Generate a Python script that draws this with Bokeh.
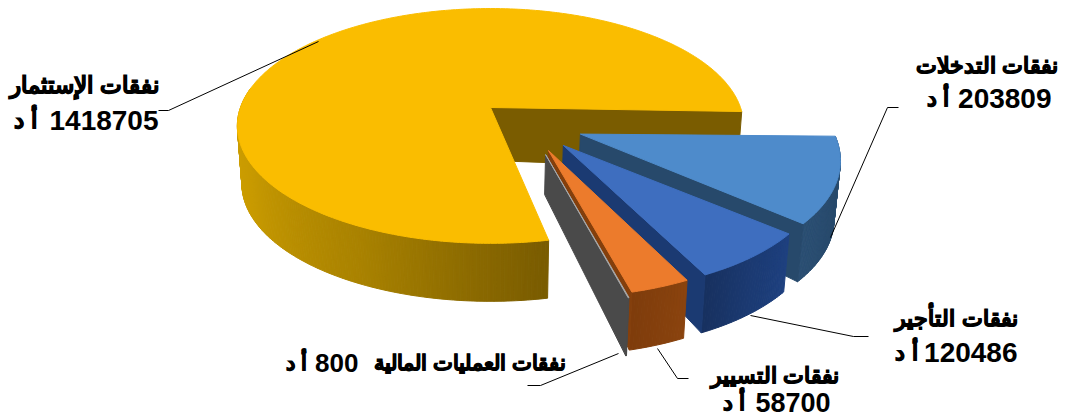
import math
from bokeh.plotting import figure
from bokeh.models import Range1d, ColumnDataSource
from bokeh.core.properties import value
from bokeh.embed import file_html
from bokeh.resources import INLINE

# ---- data ----
categories = ["نفقات الإستثمار", "نفقات التدخلات", "نفقات التأجير", "نفقات التسيير", "نفقات العمليات المالية"]
values = [1418705, 203809, 120486, 58700, 800]
unit = "أ د"

# ---- 3-D pie layout ----
CX, CY, RX, RY, K = 490.0, 107.0, 250.0, 114.5, 0.157
START = -3.0
explode = [(0.0, 0.0), (0.347, -0.224), (0.277, -0.315), (0.219, -0.355), (0.207, -0.386)]
angle_tweak = [1.0, 2.0, 3.5, 3.5, 3.5]
radius = [1.0, 0.98, 0.97, 0.96, 0.96]
t_apex = [53.0, 40.0, 40.0, 40.0, 40.0]
T_OUT = 58.0
top_col = ["#FABD00", "#4E8BCB", "#3E6EBF", "#EC7B2C", "#A8A8A8"]
side_col = ["#7A5C00", "#27496B", "#1B3A72", "#843F0C", "#4A4A4A"]
wall_stops = [
    ["#D4A300", "#C89A00", "#A98200", "#7A5C00"],
    ["#2C5A85", "#27496B", "#2B4F73"],
    ["#1F4180", "#1B3A72", "#17305F"],
    ["#8A430E", "#7E3C0B"],
    ["#4A4A4A", "#4A4A4A"],
]


def proj(X, Y):
    s = 1.0 / (1.0 + K * Y)
    return CX + RX * X * s, CY - RY * Y * s


def drop(x, y, t):
    return x - 0.018 * (x - CX), y + t


def mix(stops, f):
    f = max(0.0, min(1.0, f)) * (len(stops) - 1)
    i = min(int(f), len(stops) - 2)
    g = f - i
    a = [int(stops[i][j:j + 2], 16) for j in (1, 3, 5)]
    b = [int(stops[i + 1][j:j + 2], 16) for j in (1, 3, 5)]
    return "#%02X%02X%02X" % tuple(round(a[k] + (b[k] - a[k]) * g) for k in range(3))


total = sum(values)
xs, ys, cols = [], [], []


def add(px, py, c):
    xs.append(px)
    ys.append(py)
    cols.append(c)


spans = []
cur = START
for i, v in enumerate(values):
    sweep = 360.0 * v / total
    if i == 0:
        spans.append((cur, cur + sweep))
    else:
        spans.append((cur, cur - sweep))
        cur -= sweep


def slice_draw(i):
    a0, a1 = spans[i]
    a0 += angle_tweak[i]
    a1 += angle_tweak[i]
    ex, ey = explode[i]
    r = radius[i]
    n = max(2, int(abs(a1 - a0) * 1.5))
    angs = [a0 + (a1 - a0) * j / n for j in range(n + 1)]
    arc = [proj(ex + r * math.cos(math.radians(a)), ey + r * math.sin(math.radians(a))) for a in angs]
    apex = proj(ex, ey)
    abot = drop(apex[0], apex[1], t_apex[i])
    # outer wall
    for j in range(n):
        if i == 0 and angs[j] < 170:
            continue
        p0, p1 = arc[j], arc[j + 1]
        b0, b1 = drop(p0[0], p0[1], T_OUT), drop(p1[0], p1[1], T_OUT)
        if i == 0:
            f = (angs[j] - 170.0) / 110.0
        else:
            f = j / n
        add([p0[0], p1[0], b1[0], b0[0]], [p0[1], p1[1], b1[1], b0[1]], mix(wall_stops[i], f))
    # side (inner) face
    e = arc[0] if i == 0 else arc[-1]
    eb = drop(e[0], e[1], T_OUT)
    add([apex[0], e[0], eb[0], abot[0]], [apex[1], e[1], eb[1], abot[1]], side_col[i])
    # top face
    add([apex[0]] + [q[0] for q in arc], [apex[1]] + [q[1] for q in arc], top_col[i])


for i in range(len(values)):
    slice_draw(i)

p = figure(width=1066, height=418, x_range=Range1d(0, 1066), y_range=Range1d(418, 0),
           output_backend="svg", toolbar_location=None, min_border=0)
p.axis.visible = False
p.grid.visible = False
p.outline_line_color = None
p.background_fill_color = "#FFFFFF"

src = ColumnDataSource(dict(xs=xs, ys=ys, c=cols))
p.patches("xs", "ys", source=src, fill_color="c", line_color="c", line_width=1)

# ---- leader lines ----
leaders = [
    ([158, 168, 318], [110, 110, 41]),
    ([898, 887, 830], [107, 107, 237]),
    ([750, 853, 868], [315, 336, 336]),
    ([657, 677, 688], [348, 378, 378]),
    ([618, 540, 527], [353, 385, 385]),
]
for lx, ly in leaders:
    p.line(lx, ly, line_color="#000000", line_width=1)

# ---- labels ----
FONT = "Liberation Sans"
cat_size = ["22.5px", "21.5px", "22px", "21.5px", "21px"]
num_size = ["28px", "28px", "28px", "27px", "26px"]
cat_pos = [(158, 85), (1057, 65), (1017, 318), (838, 375), (565, 362)]
num_pos = [(158, 120), (1051, 98), (1017, 352), (830, 402), (358, 362)]
unit_pos = [(36, 120), (948, 98), (917, 352), (744, 402), (306, 362)]
for i in range(len(values)):
    for t, (x, y), sz, stroke in ((categories[i], cat_pos[i], cat_size[i], True),
                                  (str(values[i]), num_pos[i], num_size[i], False),
                                  (unit, unit_pos[i], cat_size[i], True)):
        p.text([x], [y], text=[t], text_font=value(FONT), text_font_style="bold",
               text_font_size=sz, text_align="right", text_baseline="middle", text_color="#000000",
               text_outline_color="#000000" if stroke else None)

open("out.html", "w").write(file_html(p, INLINE))
